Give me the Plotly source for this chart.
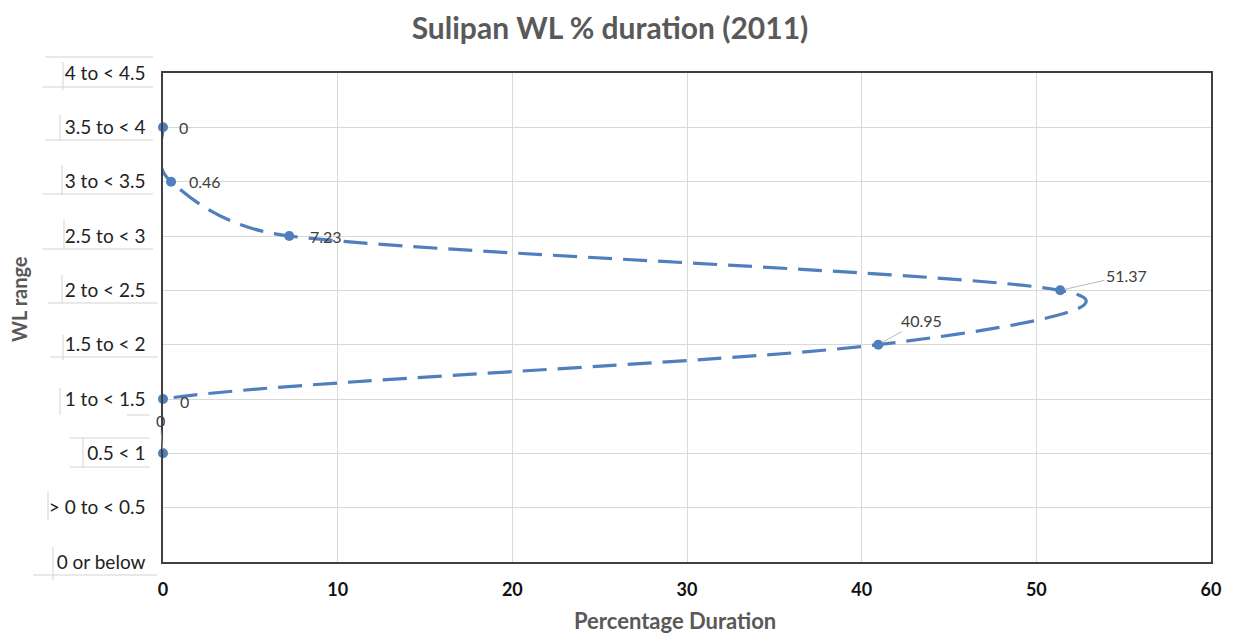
import math
import plotly.graph_objects as go

# ---- data ----
categories = ["0 or below", "> 0 to < 0.5", "0.5 < 1", "1 to < 1.5", "1.5 to < 2",
              "2 to < 2.5", "2.5 to < 3", "3 to < 3.5", "3.5 to < 4", "4 to < 4.5"]
series_cats = ["3.5 to < 4", "3 to < 3.5", "2.5 to < 3", "2 to < 2.5",
               "1.5 to < 2", "1 to < 1.5", "0.5 < 1"]
series_vals = [0, 0.46, 7.23, 51.37, 40.95, 0, 0]
x_ticks = [0, 10, 20, 30, 40, 50, 60]

# ---- layout (page pixel geometry; the page body adds an 8px offset) ----
OFF = 8
W, H = 1225, 625
L, R, T, B = 155, 22, 65, 71
PW, PH = W - L - R, H - T - B
X_MAX, Y_MAX = 60, 9


def px(x):  # page pixel -> paper x
    return (x - OFF - L) / PW


def py(y):  # page pixel -> paper y
    return (OFF + H - B - y) / PH


series_y = [categories.index(c) for c in series_cats]
blue = "#4F7FBC"


def smooth_path(xs, ys):
    """Spreadsheet-style smoothed line: cubic Bezier per segment, control
    points from neighbours (1/6 tension, limited to half the segment),
    computed in screen-proportional space and expressed in data units."""
    sx, sy = PW / X_MAX, PH / Y_MAX
    pts = [(x * sx, y * sy) for x, y in zip(xs, ys)]
    n = len(pts)

    def d(a, b):
        return math.hypot(a[0] - b[0], a[1] - b[1])

    path = f"M {xs[0]},{ys[0]}"
    for i in range(n - 1):
        p0 = pts[max(i - 1, 0)]
        p1, p2 = pts[i], pts[i + 1]
        p3 = pts[min(i + 2, n - 1)]
        d12, d02, d13 = d(p1, p2), d(p0, p2), d(p1, p3)
        f0 = 1 / 6 if d02 / 6 < d12 / 2 else d12 / (2 * d02)
        f1 = 1 / 6 if d13 / 6 < d12 / 2 else d12 / (2 * d13)
        b1 = (p1[0] + (p2[0] - p0[0]) * f0, p1[1] + (p2[1] - p0[1]) * f0)
        b2 = (p2[0] - (p3[0] - p1[0]) * f1, p2[1] - (p3[1] - p1[1]) * f1)
        path += (f" C {b1[0] / sx:.4f},{b1[1] / sy:.4f} {b2[0] / sx:.4f},{b2[1] / sy:.4f}"
                 f" {xs[i + 1]},{ys[i + 1]}")
    return path


fig = go.Figure()
fig.add_trace(go.Scatter(
    x=series_vals, y=series_y, mode="markers",
    marker=dict(color=blue, size=10),
    cliponaxis=False, hoverinfo="x+y", showlegend=False,
))

shapes = [dict(type="path", xref="x", yref="y", path=smooth_path(series_vals, series_y),
               line=dict(color=blue, width=3.2, dash="24px,11px"), layer="between")]

# data label offsets (style): (xanchor, xshift, yshift, arrow ax, arrow ay)
label_style = [
    ("left", 14, 0, None, None),
    ("left", 16, 0, None, None),
    ("left", 19, 0, None, None),
    ("center", 0, 0, 66, -15),
    ("center", 0, 0, 43, -24),
    ("center", 21, -2, None, None),
    ("center", 0, 0, -3, -33),
]
lab_font = dict(family="Lato", size=16, color="#404040")
annotations = []
for v, yy, st in zip(series_vals, series_y, label_style):
    xa, xs_, ys_, ax, ay = st
    txt = f"{v:g}"
    if ax is None:
        annotations.append(dict(x=v, y=yy, xref="x", yref="y", text=txt, showarrow=False,
                                xanchor=xa, yanchor="middle", xshift=xs_, yshift=ys_,
                                font=lab_font))
    else:
        annotations.append(dict(x=v, y=yy, xref="x", yref="y", text=txt, showarrow=True,
                                arrowhead=0, arrowwidth=0.8, arrowcolor="#a6a6a6",
                                ax=ax, ay=ay, standoff=4, font=lab_font))

# axis titles
annotations.append(dict(text="<b>Percentage Duration</b>", xref="paper", yref="paper",
                        x=px(675), y=py(620), xanchor="center", yanchor="middle",
                        showarrow=False, font=dict(family="Lato", size=22, color="#595959")))
annotations.append(dict(text="<b>WL range</b>", xref="paper", yref="paper", textangle=-90,
                        x=px(19), y=py(299), xanchor="center", yanchor="middle",
                        showarrow=False, font=dict(family="Lato", size=20, color="#595959")))

# decorative cell borders around the category labels (page pixel positions)
vlines = [(63, 62, 90), (60, 115, 140), (62, 165, 195), (64, 220, 250), (62, 275, 303),
          (63, 335, 360), (60, 388, 415), (83, 438, 468), (48, 492, 520), (53, 547, 580)]
hlines = [(45, 153, 57), (42, 153, 87), (45, 153, 140), (42, 153, 194), (42, 153, 249),
          (48, 158, 303), (50, 158, 357), (127, 150, 415), (70, 150, 438), (70, 150, 467),
          (33, 157, 575)]
for x, y1, y2 in vlines:
    shapes.append(dict(type="line", xref="paper", yref="paper", x0=px(x), x1=px(x),
                       y0=py(y1), y1=py(y2), line=dict(color="#d3d3d3", width=1)))
for x1, x2, y in hlines:
    shapes.append(dict(type="line", xref="paper", yref="paper", x0=px(x1), x1=px(x2),
                       y0=py(y), y1=py(y), line=dict(color="#d3d3d3", width=1)))

fig.update_layout(
    width=W, height=H,
    margin=dict(l=L, r=R, t=T, b=B, autoexpand=False),
    paper_bgcolor="white", plot_bgcolor="white",
    title=dict(text="<b>Sulipan WL % duration (2011)</b>", x=(610 - OFF) / W, xanchor="center",
               y=1 - (28 - OFF) / H, yanchor="middle",
               font=dict(family="Lato", size=30, color="#595959")),
    xaxis=dict(range=[0, X_MAX], tickvals=x_ticks, ticktext=[f"<b>{t}</b>" for t in x_ticks],
               showgrid=True, gridcolor="#d9d9d9", gridwidth=1, zeroline=False,
               showline=True, linecolor="#404040", linewidth=1.5, mirror=True,
               ticks="", layer="above traces", ticklabelstandoff=11,
               tickfont=dict(family="Lato", size=18, color="#111111")),
    yaxis=dict(range=[0, Y_MAX], tickvals=list(range(len(categories))), ticktext=categories,
               showgrid=True, gridcolor="#d9d9d9", gridwidth=1, zeroline=False,
               showline=True, linecolor="#404040", linewidth=1.5, mirror=True,
               ticks="", layer="above traces", ticklabelstandoff=12,
               tickfont=dict(family="Lato", size=19, color="#222222")),
    annotations=annotations,
    shapes=shapes,
)

fig.write_html("out.html")
